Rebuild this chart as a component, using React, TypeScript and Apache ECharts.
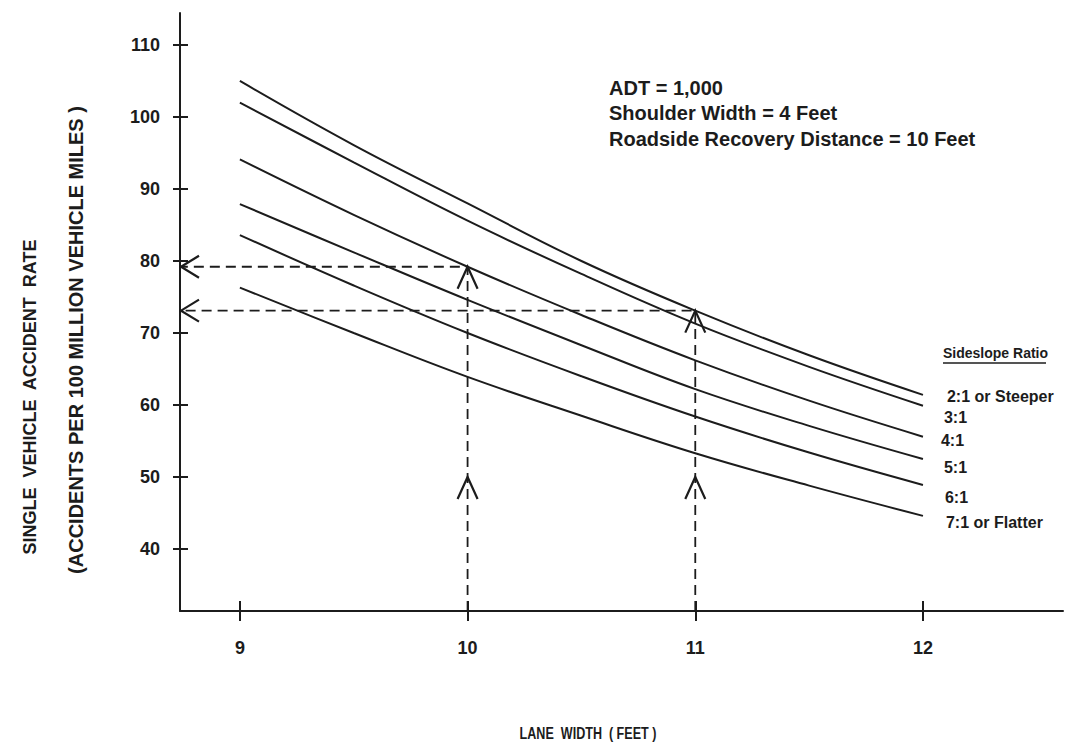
import React, { useEffect, useRef } from "react";
import * as echarts from "echarts";

// ---- data ----
const laneWidths = [9, 9.5, 10, 10.5, 11, 11.5, 12];
const sideslopeRatios = ["2:1 or Steeper", "3:1", "4:1", "5:1", "6:1", "7:1 or Flatter"];
const rate2to1 = [105.0, 96.1, 88.0, 80.0, 73.1, 66.9, 61.4];
const rate3to1 = [102.0, 93.7, 85.6, 78.2, 71.3, 65.3, 59.9];
const rate4to1 = [94.1, 86.4, 79.2, 72.5, 66.2, 60.6, 55.6];
const rate5to1 = [87.9, 81.2, 74.6, 68.3, 62.2, 57.1, 52.5];
const rate6to1 = [83.6, 76.6, 70.0, 64.0, 58.4, 53.4, 48.9];
const rate7to1 = [76.3, 70.0, 63.9, 58.5, 53.3, 48.8, 44.6];

const xTicks = [9, 10, 11, 12];
const yTicks = [40, 50, 60, 70, 80, 90, 100, 110];

// worked examples (dashed read-off lines)
const exampleLaneWidths = [10, 11];
const exampleRates = [79.2, 73.1];
const exampleMidArrowRate = 50;

const noteLines = ["ADT = 1,000", "Shoulder Width = 4 Feet", "Roadside Recovery Distance = 10 Feet"];

const X_MIN = 8.737;
const X_MAX = 12.615;
const Y_MIN = 31.39;
const Y_MAX = 114.44;

const INK = "#1c1c1c";
const FONT = "'Liberation Sans', Arial, Helvetica, sans-serif";

const allRates = [rate2to1, rate3to1, rate4to1, rate5to1, rate6to1, rate7to1];
const labelDistance = [24, 21, 18, 21, 22, 23];
const labelDy = [2, 12, 4, 9, 13, 7];

export default function App() {
  const ref = useRef<HTMLDivElement>(null);

  useEffect(() => {
    if (!ref.current) return;
    const chart = echarts.init(ref.current, null, { renderer: "svg" });

    const curveSeries = allRates.map((rates, i) => ({
      type: "line",
      name: sideslopeRatios[i],
      xAxisIndex: 0,
      yAxisIndex: 0,
      smooth: 0.4,
      showSymbol: false,
      symbol: "none",
      data: laneWidths.map((w, j) => [w, rates[j]]),
      lineStyle: { color: INK, width: 2 },
      endLabel: {
        show: true,
        formatter: sideslopeRatios[i],
        distance: labelDistance[i],
        offset: [0, labelDy[i]],
        color: INK,
        fontFamily: FONT,
        fontWeight: "bold",
        fontSize: 16,
      },
      emphasis: { disabled: true },
      silent: true,
    }));

    const dashedSeries = exampleLaneWidths.map((w, i) => ({
      type: "line",
      xAxisIndex: 0,
      yAxisIndex: 0,
      symbol: "none",
      data: [
        [w, Y_MIN],
        [w, exampleRates[i]],
        [X_MIN, exampleRates[i]],
      ],
      lineStyle: { color: INK, width: 1.8, type: [10, 6] },
      silent: true,
    }));

    const chevronData: number[][] = [];
    exampleLaneWidths.forEach((w, i) => {
      chevronData.push([w, exampleRates[i], 0]);
      chevronData.push([w, exampleMidArrowRate, 0]);
      chevronData.push([X_MIN, exampleRates[i], 1]);
    });

    const chevronSeries = {
      type: "custom",
      xAxisIndex: 0,
      yAxisIndex: 0,
      clip: false,
      silent: true,
      encode: { x: 0, y: 1 },
      data: chevronData,
      renderItem: (params: any, api: any) => {
        const p = api.coord([api.value(0), api.value(1)]);
        const dir = api.value(2);
        let points;
        if (dir === 0) {
          points = [
            [p[0] - 10, p[1] + 22],
            [p[0], p[1]],
            [p[0] + 10, p[1] + 22],
          ];
        } else {
          points = [
            [p[0] + 19, p[1] - 11],
            [p[0] + 1, p[1]],
            [p[0] + 19, p[1] + 11],
          ];
        }
        return {
          type: "polyline",
          shape: { points },
          style: { stroke: INK, lineWidth: 2.2, fill: null },
        };
      },
    };

    const labelStyle = {
      color: INK,
      fontFamily: FONT,
      fontWeight: "bold" as const,
      fontSize: 18,
    };

    chart.setOption({
      animation: false,
      backgroundColor: "#ffffff",
      grid: { left: 180, right: 15, top: 13, bottom: 133, containLabel: false },
      xAxis: [
        {
          type: "value",
          position: "bottom",
          min: X_MIN,
          max: X_MAX,
          axisLine: { show: true, onZero: false, lineStyle: { color: INK, width: 2 } },
          axisTick: { show: true, customValues: xTicks, length: 10, lineStyle: { color: INK, width: 2 } },
          axisLabel: { show: true, customValues: xTicks, margin: 28, ...labelStyle },
          splitLine: { show: false },
        },
        {
          type: "value",
          position: "bottom",
          min: X_MIN,
          max: X_MAX,
          axisLine: { show: false, onZero: false },
          axisTick: { show: true, inside: true, customValues: xTicks, length: 10, lineStyle: { color: INK, width: 2 } },
          axisLabel: { show: false },
          splitLine: { show: false },
        },
      ],
      yAxis: [
        {
          type: "value",
          position: "left",
          min: Y_MIN,
          max: Y_MAX,
          axisLine: { show: true, onZero: false, lineStyle: { color: INK, width: 2 } },
          axisTick: { show: true, customValues: yTicks, length: 7, lineStyle: { color: INK, width: 2 } },
          axisLabel: { show: true, customValues: yTicks, margin: 20, ...labelStyle },
          splitLine: { show: false },
        },
        {
          type: "value",
          position: "left",
          min: Y_MIN,
          max: Y_MAX,
          axisLine: { show: false, onZero: false },
          axisTick: { show: true, inside: true, customValues: yTicks, length: 8, lineStyle: { color: INK, width: 2 } },
          axisLabel: { show: false },
          splitLine: { show: false },
        },
      ],
      series: [...curveSeries, ...dashedSeries, chevronSeries],
      graphic: [
        {
          type: "text",
          left: 609,
          top: 75,
          style: {
            text: noteLines.join("\n"),
            fill: INK,
            font: `bold 20px ${FONT}`,
            lineHeight: 25.5,
          },
        },
        {
          type: "text",
          left: 943,
          top: 346,
          style: {
            text: "Sideslope Ratio",
            fill: INK,
            font: `bold 14px ${FONT}`,
          },
        },
        {
          type: "line",
          shape: { x1: 943, y1: 363, x2: 1046, y2: 363 },
          style: { stroke: INK, lineWidth: 1.5 },
        },
        {
          type: "text",
          x: 30,
          y: 397,
          rotation: Math.PI / 2,
          style: {
            text: "SINGLE  VEHICLE  ACCIDENT  RATE",
            fill: INK,
            font: `bold 18px ${FONT}`,
            textAlign: "center",
            textVerticalAlign: "middle",
          },
        },
        {
          type: "text",
          x: 76,
          y: 340,
          rotation: Math.PI / 2,
          style: {
            text: "(ACCIDENTS PER 100 MILLION VEHICLE MILES )",
            fill: INK,
            font: `bold 20px ${FONT}`,
            textAlign: "center",
            textVerticalAlign: "middle",
          },
        },
        {
          type: "text",
          x: 588,
          y: 733,
          scaleX: 0.74,
          style: {
            text: "LANE  WIDTH  ( FEET )",
            fill: INK,
            font: `bold 17px ${FONT}`,
            textAlign: "center",
            textVerticalAlign: "middle",
          },
        },
      ],
    });

    return () => chart.dispose();
  }, []);

  return (
    <div
      ref={ref}
      style={{ position: "fixed", left: 0, top: 0, width: 1078, height: 744, background: "#fff" }}
    />
  );
}
